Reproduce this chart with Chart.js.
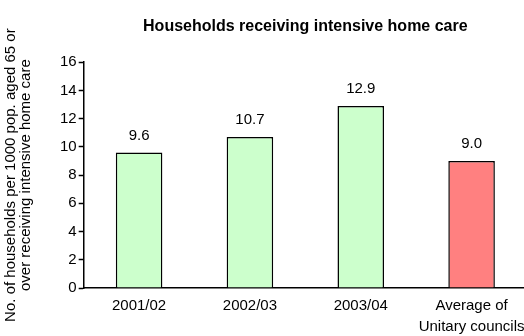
<!DOCTYPE html>
<html>
<head>
<meta charset="utf-8">
<script src="https://cdn.jsdelivr.net/npm/chart.js@4"></script>
<style>
  html, body { margin: 0; padding: 0; background: #fff; overflow: hidden; }
  /* a little wider than the window so the axis runs off the right edge, as in the original */
  #wrap { width: 527px; height: 336px; position: relative; }
</style>
</head>
<body>
<div id="wrap"><canvas id="careChart"></canvas></div>
<script>
const categories = ['2001/02', '2002/03', '2003/04', ['Average of', 'Unitary councils']];
const households = [9.6, 10.7, 12.9, 9.0];
const barColors = ['#ccffcc', '#ccffcc', '#ccffcc', '#ff8080'];
const yTicks = [0, 2, 4, 6, 8, 10, 12, 14, 16];

const fontFamily = 'Arial, "Liberation Sans", sans-serif';

// value labels above each bar
const valueLabels = {
    id: 'valueLabels',
    afterDatasetsDraw: (chart) => {
        const { ctx } = chart;
        const meta = chart.getDatasetMeta(0);
        ctx.save();
        ctx.fillStyle = '#000';
        ctx.font = '15px ' + fontFamily;
        ctx.textAlign = 'center';
        ctx.textBaseline = 'alphabetic';
        meta.data.forEach((bar, i) => {
            ctx.fillText(households[i].toFixed(1), bar.x, bar.y - 13);
        });
        ctx.restore();
    }
};

new Chart(document.getElementById('careChart').getContext('2d'), {
    type: 'bar',
    plugins: [valueLabels],
    data: {
        labels: categories,
        datasets: [{
            data: households,
            backgroundColor: barColors,
            borderColor: '#000',
            borderWidth: 1.5,
            barPercentage: 0.42,
            categoryPercentage: 1.0
        }]
    },
    options: {
        responsive: true,
        maintainAspectRatio: false,
        animation: false,
        layout: { padding: 0 },
        plugins: {
            legend: { display: false },
            tooltip: { enabled: false },
            title: {
                display: true,
                text: 'Households receiving intensive home care',
                color: '#000',
                fullSize: false,
                font: { family: fontFamily, size: 16, weight: 'bold' },
                padding: { top: 17, bottom: 26 }
            }
        },
        scales: {
            x: {
                grid: { display: false, drawTicks: false },
                border: { color: '#000', width: 1.5 },
                ticks: {
                    color: '#000',
                    font: { family: fontFamily, size: 15, lineHeight: 1.4 },
                    padding: 7,
                    maxRotation: 0,
                    autoSkip: false
                },
                afterFit: (axis) => {
                    axis.height = 48;
                    axis.paddingLeft = 0;
                    axis.paddingRight = 0;
                }
            },
            y: {
                min: 0,
                max: 16,
                afterBuildTicks: (axis) => { axis.ticks = yTicks.map(v => ({ value: v })); },
                grid: { drawOnChartArea: false, tickLength: 5, color: '#000', tickWidth: 1.5 },
                border: { color: '#000', width: 1.5 },
                ticks: {
                    color: '#000',
                    font: { family: fontFamily, size: 15 },
                    padding: 2
                },
                title: {
                    display: true,
                    text: ['No. of households per 1000 pop. aged 65 or', 'over receiving intensive home care'],
                    color: '#000',
                    font: { family: fontFamily, size: 15, lineHeight: 1.0 },
                    padding: { top: 3, bottom: 25 }
                }
            }
        }
    }
});
</script>
</body>
</html>
